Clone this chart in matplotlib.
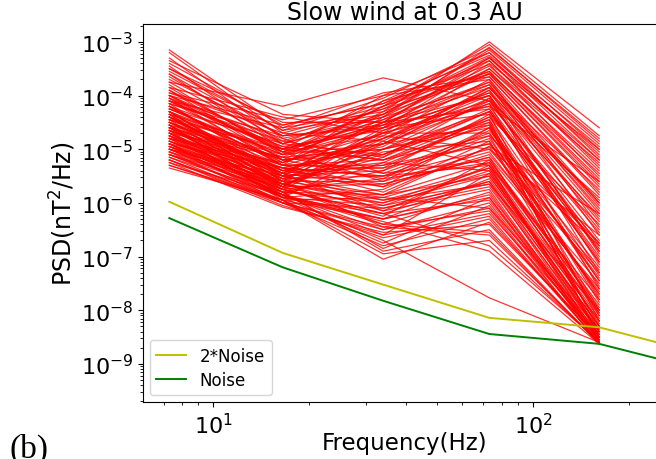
import numpy as np
import matplotlib
matplotlib.use("Agg")
import matplotlib.pyplot as plt

# Frequencies of the spectral estimates (Hz)
freqs = [7.3, 16.5, 34.0, 73.0, 161.0]

# log10 PSD of each spectrum at the five frequencies
psd_log = [
    [-3.15, -4.60, -4.30, -3.00, -4.60],
    [-3.20, -4.70, -4.20, -3.05, -4.75],
    [-3.30, -4.80, -4.40, -3.10, -4.85],
    [-3.45, -4.90, -4.10, -3.25, -4.95],
    [-3.50, -4.50, -4.50, -3.30, -5.05],
    [-3.60, -5.00, -4.00, -3.20, -5.15],
    [-3.70, -4.75, -4.60, -3.40, -5.00],
    [-3.80, -5.10, -4.20, -3.35, -5.30],
    [-3.85, -4.40, -4.70, -3.50, -5.40],
    [-3.90, -5.20, -4.30, -3.55, -5.55],
    [-4.00, -4.90, -4.40, -3.45, -5.20],
    [-4.05, -5.30, -4.10, -3.60, -5.70],
    [-3.75, -4.20, -3.67, -4.10, -5.90],
    [-4.10, -4.60, -3.95, -3.65, -5.80],
    [-3.95, -4.45, -4.00, -3.70, -6.00],
    [-4.10, -5.00, -4.60, -3.80, -6.10],
    [-4.20, -5.30, -4.80, -3.90, -6.30],
    [-4.30, -5.10, -4.50, -4.00, -6.50],
    [-4.40, -5.40, -4.90, -3.85, -6.00],
    [-4.50, -5.20, -5.00, -4.10, -6.70],
    [-4.15, -5.50, -4.70, -4.20, -6.90],
    [-4.25, -4.90, -5.10, -4.30, -7.10],
    [-4.35, -5.60, -4.60, -4.00, -7.30],
    [-4.45, -5.00, -5.20, -4.40, -6.40],
    [-4.55, -5.70, -4.80, -4.15, -7.60],
    [-4.60, -5.30, -5.30, -4.50, -7.80],
    [-4.65, -5.45, -4.50, -4.25, -7.00],
    [-4.70, -5.15, -5.00, -4.60, -8.00],
    [-4.75, -5.80, -5.40, -4.35, -8.20],
    [-4.80, -5.25, -4.70, -4.70, -7.40],
    [-4.85, -5.60, -5.10, -4.45, -8.40],
    [-4.90, -5.35, -5.50, -4.80, -7.70],
    [-4.95, -5.70, -4.90, -4.55, -8.50],
    [-5.00, -5.50, -5.30, -4.90, -6.80],
    [-4.05, -5.05, -5.60, -4.65, -7.20],
    [-4.20, -4.95, -5.20, -4.75, -8.10],
    [-4.30, -5.55, -4.75, -5.00, -6.60],
    [-4.40, -5.45, -5.70, -5.10, -7.50],
    [-4.50, -5.65, -5.05, -4.85, -8.30],
    [-4.60, -5.15, -5.45, -5.20, -7.90],
    [-4.70, -5.75, -4.85, -5.30, -8.60],
    [-4.80, -5.35, -5.80, -4.95, -6.20],
    [-4.90, -5.85, -5.25, -5.40, -8.45],
    [-5.00, -5.60, -5.60, -5.05, -7.65],
    [-3.90, -5.00, -4.55, -4.20, -5.60],
    [-4.00, -5.20, -4.90, -4.05, -6.25],
    [-4.15, -4.85, -5.15, -4.30, -6.85],
    [-4.35, -5.70, -4.65, -3.95, -5.95],
    [-4.45, -5.30, -5.35, -4.40, -7.35],
    [-4.55, -5.90, -5.00, -4.50, -8.55],
    [-4.60, -5.80, -6.00, -5.50, -8.30],
    [-4.70, -5.90, -6.20, -5.60, -8.50],
    [-4.80, -5.70, -6.40, -5.80, -8.60],
    [-4.90, -6.00, -6.10, -5.70, -8.40],
    [-5.00, -5.85, -6.50, -6.00, -8.55],
    [-5.10, -5.95, -6.30, -5.90, -8.62],
    [-5.20, -6.05, -6.60, -6.20, -8.45],
    [-5.30, -6.00, -6.80, -6.30, -8.60],
    [-5.35, -5.95, -7.05, -6.36, -8.50],
    [-4.75, -5.90, -6.70, -7.77, -8.60],
    [-5.10, -5.80, -6.90, -6.50, -8.63],
    [-4.95, -5.75, -6.20, -6.80, -8.58],
    [-4.85, -5.65, -5.90, -6.10, -8.35],
    [-5.05, -6.00, -6.45, -6.60, -8.60],
    [-4.65, -5.55, -6.05, -5.40, -8.20],
    [-4.55, -5.50, -5.95, -5.65, -8.00],
    [-5.15, -5.85, -6.35, -6.90, -8.63],
    [-4.40, -5.45, -6.15, -5.30, -7.80],
    [-5.25, -6.08, -6.55, -6.40, -8.50],
    [-4.30, -5.60, -5.85, -5.25, -8.10],
    [-3.55, -4.65, -4.35, -3.15, -4.90],
    [-3.65, -4.85, -4.25, -3.28, -5.10],
    [-3.85, -5.05, -4.45, -3.50, -5.25],
    [-4.00, -4.55, -4.15, -3.42, -5.50],
    [-4.10, -5.25, -4.55, -3.75, -6.15],
    [-4.25, -5.15, -4.35, -3.60, -5.65],
    [-4.40, -5.05, -4.75, -3.70, -6.45],
    [-4.50, -5.35, -4.95, -3.90, -6.95],
    [-4.60, -5.50, -4.40, -3.80, -6.60],
    [-4.70, -5.65, -5.15, -4.05, -7.15],
    [-4.80, -5.45, -5.25, -4.45, -7.55],
    [-4.90, -5.75, -5.55, -4.60, -7.85],
    [-5.00, -5.90, -5.75, -4.85, -8.05],
    [-5.10, -5.70, -5.65, -5.15, -8.25],
    [-5.20, -5.95, -5.90, -5.35, -8.40],
    [-4.20, -5.40, -5.35, -4.90, -7.25],
    [-4.35, -5.20, -5.55, -5.25, -7.95],
    [-4.05, -4.80, -5.45, -4.75, -6.75],
    [-3.35, -4.35, -4.50, -3.35, -5.35],
    [-3.60, -4.75, -4.55, -3.58, -5.45],
    [-4.45, -5.75, -6.25, -5.20, -8.00],
    [-4.55, -5.85, -6.60, -5.45, -8.30],
    [-4.65, -5.95, -6.75, -5.90, -8.50],
    [-4.75, -5.60, -6.45, -6.15, -8.62],
    [-4.85, -5.80, -6.85, -6.05, -8.55],
    [-4.95, -5.90, -6.30, -5.55, -8.40],
    [-5.05, -5.65, -6.15, -5.75, -8.58],
    [-5.15, -6.00, -6.65, -6.25, -8.60],
    [-5.25, -5.85, -6.40, -6.55, -8.63],
    [-5.30, -5.95, -6.95, -6.70, -8.60],
    [-4.20, -5.30, -5.70, -4.60, -7.45],
    [-4.30, -5.50, -5.85, -4.95, -7.70],
    [-4.40, -5.65, -6.00, -5.35, -8.15],
    [-4.50, -5.40, -5.65, -5.15, -7.60],
    [-4.60, -5.70, -6.10, -5.60, -8.35],
    [-4.70, -5.55, -5.50, -5.00, -7.30],
    [-4.80, -5.85, -6.30, -5.85, -8.45],
    [-4.90, -5.65, -5.95, -5.45, -8.20],
    [-5.00, -5.75, -6.20, -5.95, -8.50],
    [-5.10, -5.90, -6.05, -5.65, -8.55],
    [-3.95, -4.70, -4.85, -3.85, -5.75],
    [-4.10, -4.95, -4.65, -3.95, -6.35],
    [-4.25, -5.10, -4.90, -4.15, -6.55],
    [-4.35, -5.00, -4.45, -3.75, -6.05],
    [-4.45, -5.20, -5.10, -4.25, -7.05],
    [-4.55, -5.10, -4.60, -4.35, -6.75],
    [-4.65, -5.30, -5.20, -4.55, -7.45],
    [-4.75, -5.40, -4.80, -4.00, -6.90],
    [-4.85, -5.50, -5.40, -4.70, -7.75],
    [-4.95, -5.55, -5.00, -4.30, -7.10],
    [-3.40, -4.55, -4.15, -3.20, -5.00],
    [-3.50, -4.65, -4.05, -3.12, -4.80],
    [-3.75, -4.90, -4.35, -3.30, -5.20],
    [-4.00, -5.05, -4.20, -3.55, -5.60],
    [-4.15, -4.75, -4.25, -3.65, -5.85],
    [-4.30, -5.25, -4.50, -3.85, -6.20],
    [-4.50, -5.45, -4.70, -4.10, -6.80],
    [-4.65, -5.35, -5.50, -5.30, -8.05],
    [-5.05, -5.80, -5.85, -5.50, -8.30],
    [-5.20, -6.00, -6.50, -6.10, -8.63],
]

# Noise levels
noise_freqs = [7.3, 16.5, 34.0, 73.0, 161.0, 340.0]
noise = [5.2e-7, 6.3e-8, 1.5e-8, 3.6e-9, 2.36e-9, 7.6e-10]
noise2 = [1.05e-6, 1.17e-7, 3.0e-8, 7.2e-9, 4.8e-9, 1.5e-9]

fig = plt.figure(figsize=(6.56, 4.6), dpi=100)
ax = fig.add_axes([0.218, 0.124, 0.797, 0.822])

for row in psd_log:
    ax.plot(freqs, np.power(10.0, row), color="red", lw=0.9, alpha=0.8)

ax.plot(noise_freqs, noise2, color="y", lw=1.4, label="2*Noise")
ax.plot(noise_freqs, noise, color="g", lw=1.4, label="Noise")

ax.set_xscale("log")
ax.set_yscale("log")
ax.set_xlim(6.04, 260)
ax.set_ylim(1.95e-10, 2.17e-3)

ax.tick_params(axis="both", which="major", labelsize=16)
ax.set_title("Slow wind at 0.3 AU", fontsize=17, pad=1)
ax.set_xlabel("Frequency(Hz)", fontsize=16.5, labelpad=-4)
ax.set_ylabel("PSD(nT$^2$/Hz)", fontsize=17, labelpad=2)

ax.legend(loc="lower left", fontsize=12, handlelength=1.8, framealpha=0.8,
          borderaxespad=0.4, labelspacing=0.35)

fig.text(0.015, 0.004, "(b)", fontfamily="Liberation Serif", fontsize=24,
         ha="left", va="baseline")

fig.savefig("out.png", dpi=100)
